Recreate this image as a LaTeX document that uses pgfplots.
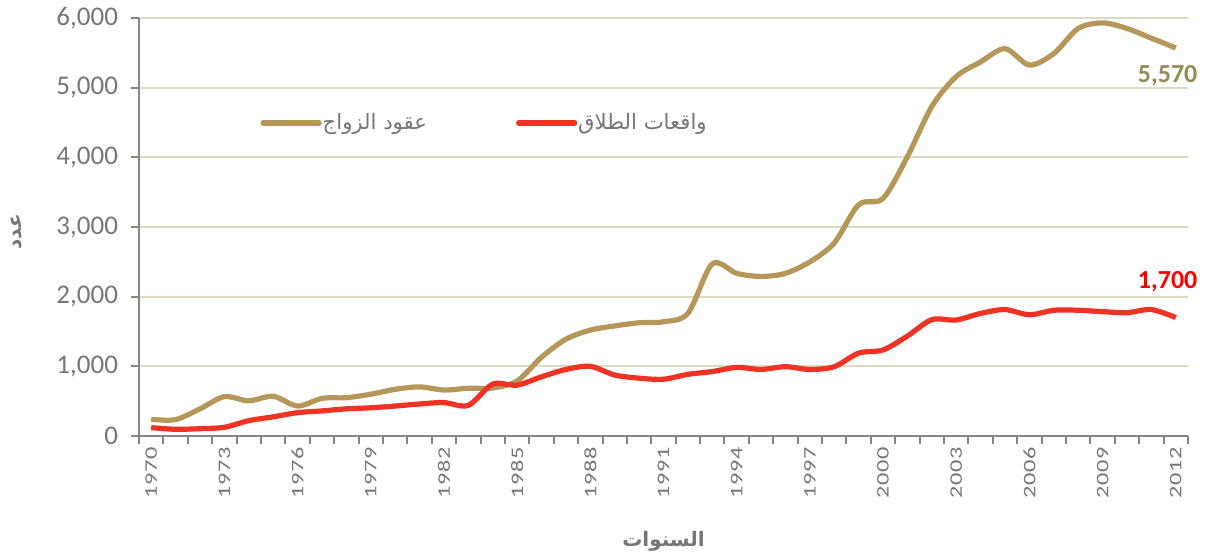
\documentclass[border=0pt]{standalone}
\usepackage{pgfplots}
\pgfplotsset{compat=1.18}
\usepackage{fontspec}
\setmainfont{Carlito}
\newfontfamily\arabicfont[Script=Arabic]{DejaVu Sans}
\newfontfamily\xtickfont[FakeStretch=1.38,LetterSpace=4]{Carlito}
\TeXXeTstate=1
\definecolor{gold}{RGB}{181,151,89}
\definecolor{redline}{RGB}{238,50,36}
\definecolor{olivelab}{RGB}{148,138,84}
\definecolor{gridc}{RGB}{221,217,195}
\definecolor{axisc}{RGB}{134,134,134}
\definecolor{txtc}{RGB}{118,118,118}
\begin{document}
\begin{tikzpicture}
\path[use as bounding box] (-69.5pt,-60.5pt) rectangle (534pt,218pt);
\begin{axis}[
  at={(0pt,0pt)}, anchor=south west,
  scale only axis, width=524.5pt, height=209pt,
  xmin=1969.5, xmax=2012.5, ymin=0, ymax=6000,
  axis x line*=bottom, axis y line*=left,
  axis line style={draw=axisc, line width=1pt, -},
  clip=false,
  ytick={0,1000,...,6000},
  ymajorgrids, grid style={draw=gridc, line width=1pt},
  xtick={1969.5,1970.5,...,2012.5},
  xticklabels={},
  extra x ticks={1970,1973,...,2012},
  extra x tick style={major tick length=0pt, grid=none},
  tick align=outside,
  major tick length=4pt,
  tick style={draw=axisc, line width=1pt},
  xticklabel style={/pgf/number format/1000 sep={}, rotate=90, anchor=east, font=\xtickfont\fontsize{8.8}{9}\selectfont, text=txtc, xshift=-2pt},
  yticklabel style={/pgf/number format/1000 sep={,}, font=\fontsize{13.5}{15}\selectfont, text=txtc, xshift=-3pt},
  /pgf/number format/assume math mode=true,
  xlabel={\arabicfont\bfseries\beginR السنوات\endR},
  xlabel style={at={(axis description cs:0.5,-0.252)}, anchor=center, font=\fontsize{10}{12}\selectfont, text=txtc},
  ylabel={\arabicfont\bfseries\beginR عدد\endR},
  ylabel style={at={(axis description cs:-0.1163,0.488)}, anchor=center, rotate=0, font=\fontsize{10}{12}\selectfont, text=txtc},
  legend columns=2,
  legend style={at={(0.1097,0.749)}, anchor=west, draw=none, fill=none,
    font=\arabicfont\fontsize{10.6}{12}\selectfont, text=txtc,
    /tikz/every even column/.append style={column sep=44pt},
    nodes={inner sep=0.5pt}},
  legend image code/.code={\draw[#1, line cap=round] (0pt,0pt) -- (28pt,0pt);},
]
\addplot[gold, line width=2.6pt, smooth] coordinates {
(1970,240) (1971,235) (1972,390) (1973,565) (1974,505) (1975,570) (1976,430)
(1977,540) (1978,550) (1979,600) (1980,670) (1981,705) (1982,660) (1983,685)
(1984,690) (1985,790) (1986,1130) (1987,1390) (1988,1520) (1989,1580) (1990,1625)
(1991,1640) (1992,1760) (1993,2470) (1994,2335) (1995,2290) (1996,2335) (1997,2500)
(1998,2770) (1999,3320) (2000,3410) (2001,4010) (2002,4730) (2003,5160) (2004,5370)
(2005,5560) (2006,5325) (2007,5490) (2008,5850) (2009,5930) (2010,5850) (2011,5710)
(2012,5570)};
\addlegendentry{\beginR عقود الزواج\endR}
\addplot[redline, line width=2.6pt, smooth] coordinates {
(1970,120) (1971,96) (1972,105) (1973,125) (1974,220) (1975,275) (1976,335)
(1977,360) (1978,390) (1979,405) (1980,430) (1981,460) (1982,480) (1983,440)
(1984,745) (1985,730) (1986,850) (1987,955) (1988,1000) (1989,875) (1990,830)
(1991,815) (1992,885) (1993,925) (1994,985) (1995,955) (1996,995) (1997,955)
(1998,995) (1999,1190) (2000,1235) (2001,1435) (2002,1670) (2003,1665) (2004,1760)
(2005,1815) (2006,1740) (2007,1805) (2008,1805) (2009,1785) (2010,1770) (2011,1815)
(2012,1700)};
\addlegendentry{\beginR واقعات الطلاق\endR}
\node[anchor=north east, inner sep=0pt, text=olivelab, font=\bfseries\fontsize{13}{15}\selectfont, xshift=11pt, yshift=-8.5pt] at (axis cs:2012,5570) {5,570};
\node[anchor=south east, inner sep=0pt, text=red, font=\bfseries\fontsize{13}{15}\selectfont, xshift=11pt, yshift=12.5pt] at (axis cs:2012,1700) {1,700};
\end{axis}
\end{tikzpicture}
\end{document}
